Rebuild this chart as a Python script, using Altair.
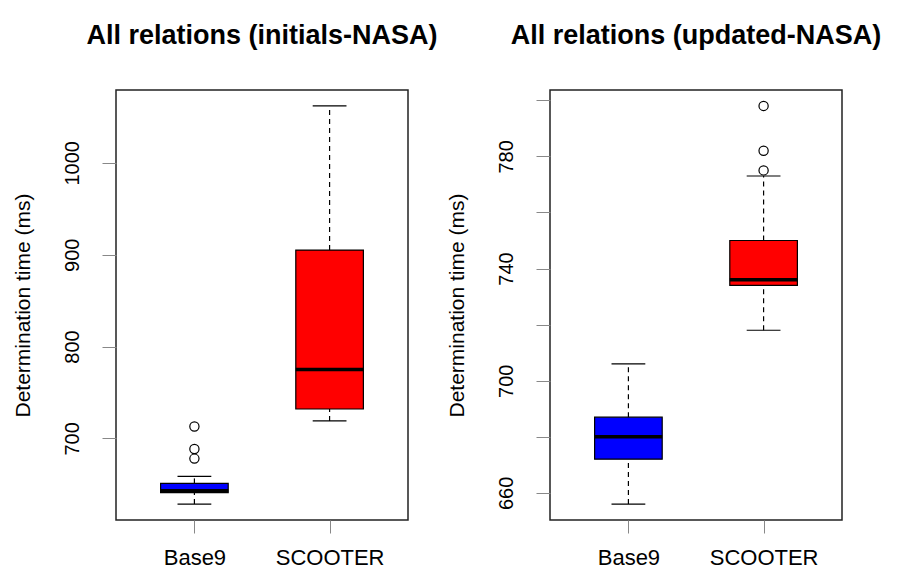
import altair as alt
import pandas as pd

categories = ["Base9", "SCOOTER"]
fill_colors = ["#0000FF", "#FF0000"]
panel_titles = ["All relations (initials-NASA)", "All relations (updated-NASA)"]
y_title = "Determination time (ms)"

# Panel 1: initials-NASA  (one value per category)
init_lower = [628.5, 719]
init_q1 = [641, 732]
init_median = [643, 775]
init_q3 = [651, 905]
init_upper = [658.6, 1062]
init_outliers = [[678, 688.5, 713], []]
init_ticks = [700, 800, 900, 1000]
init_labeled = [700, 800, 900, 1000]

# Panel 2: updated-NASA
upd_lower = [656, 718]
upd_q1 = [672, 734]
upd_median = [680, 736]
upd_q3 = [687, 750]
upd_upper = [706, 773]
upd_outliers = [[], [775, 782, 798]]
upd_ticks = [660, 680, 700, 720, 740, 760, 780, 800]
upd_labeled = [660, 700, 740, 780]

FONT = "Liberation Sans"


def panel(title, lower, q1, median, q3, upper, outliers, ticks, labeled):
    rows = []
    for i, c in enumerate(categories):
        pos = i + 1
        rows.append(dict(cat=c, pos=pos, box_lo=pos - 0.25, box_hi=pos + 0.25,
                         cap_lo=pos - 0.125, cap_hi=pos + 0.125,
                         lower=lower[i], q1=q1[i], median=median[i],
                         q3=q3[i], upper=upper[i]))
    df = pd.DataFrame(rows)
    out_rows = [dict(cat=c, pos=i + 1, value=v)
                for i, c in enumerate(categories) for v in outliers[i]]
    odf = pd.DataFrame(out_rows, columns=["cat", "pos", "value"])

    all_vals = lower + upper + [v for o in outliers for v in o]
    lo, hi = min(all_vals), max(all_vals)
    pad = 0.04 * (hi - lo)
    ydom = [lo - pad, hi + pad]

    xscale = alt.Scale(domain=[0.42, 2.58], nice=False, zero=False)
    yscale = alt.Scale(domain=ydom, nice=False, zero=False)
    lab_list = ",".join("'%s'" % c for c in categories)
    xaxis = alt.Axis(values=[1, 2], labelExpr="[%s][datum.value - 1]" % lab_list,
                     title=None, tickSize=13, labelPadding=14, labelFontSize=22,
                     labelFlush=False, labelOverlap=False, grid=False, domain=False)
    lab_vals = ",".join(str(v) for v in labeled)
    yaxis = alt.Axis(values=ticks, title=y_title, format="d",
                     labelExpr="indexof([%s], datum.value) >= 0 ? datum.label : ''" % lab_vals,
                     labelAngle=-90, labelAlign="center", labelBaseline="bottom",
                     labelFontSize=20, tickSize=14, labelPadding=20,
                     labelFlush=False, labelOverlap=False, grid=False, domain=False,
                     titleFontSize=21, titleFontWeight="normal", titlePadding=29)

    base = alt.Chart(df)
    whisk_hi = base.mark_rule(color="black", strokeDash=[5, 4], strokeWidth=1.2).encode(
        x=alt.X("pos:Q", scale=xscale, axis=xaxis),
        y=alt.Y("q3:Q", scale=yscale, axis=yaxis), y2="upper:Q")
    whisk_lo = base.mark_rule(color="black", strokeDash=[5, 4], strokeWidth=1.2).encode(
        x="pos:Q", y="lower:Q", y2="q1:Q")
    cap_hi = base.mark_rule(color="black", strokeWidth=1.2).encode(
        x="cap_lo:Q", x2="cap_hi:Q", y="upper:Q")
    cap_lo = base.mark_rule(color="black", strokeWidth=1.2).encode(
        x="cap_lo:Q", x2="cap_hi:Q", y="lower:Q")
    box = base.mark_rect(stroke="black", strokeWidth=1.2).encode(
        x="box_lo:Q", x2="box_hi:Q", y="q1:Q", y2="q3:Q",
        color=alt.Color("cat:N", scale=alt.Scale(domain=categories, range=fill_colors),
                        legend=None))
    med = base.mark_rule(color="black", strokeWidth=3.5).encode(
        x="box_lo:Q", x2="box_hi:Q", y="median:Q")
    layers = [whisk_hi, whisk_lo, cap_hi, cap_lo, box, med]
    if len(odf):
        pts = alt.Chart(odf).mark_point(shape="circle", filled=False, color="black",
                                        size=85, strokeWidth=1.2, opacity=1).encode(
            x="pos:Q", y="value:Q")
        layers.append(pts)
    return alt.layer(*layers).properties(
        width=292, height=430,
        view=alt.ViewBackground(stroke="#222222", strokeWidth=1.5),
        title=alt.TitleParams(title, fontSize=27, font=FONT, fontWeight="bold",
                              anchor="middle", baseline="alphabetic", offset=19,
                              color="black"))


left = panel(panel_titles[0], init_lower, init_q1, init_median, init_q3, init_upper,
             init_outliers, init_ticks, init_labeled)
right = panel(panel_titles[1], upd_lower, upd_q1, upd_median, upd_q3, upd_upper,
              upd_outliers, upd_ticks, upd_labeled)

chart = alt.hconcat(left, right, spacing=142, bounds="flush").properties(
    padding={"left": 3, "top": 13, "right": 5, "bottom": 5}
).configure_view(stroke="#222222", strokeWidth=1.5).configure_axis(
    grid=False, domain=False, labelFont=FONT, titleFont=FONT,
    labelColor="black", titleColor="black", tickColor="#222", tickWidth=1.3
).configure(background="white")

chart.save("out.html", embed_options={"renderer": "svg", "actions": False})
